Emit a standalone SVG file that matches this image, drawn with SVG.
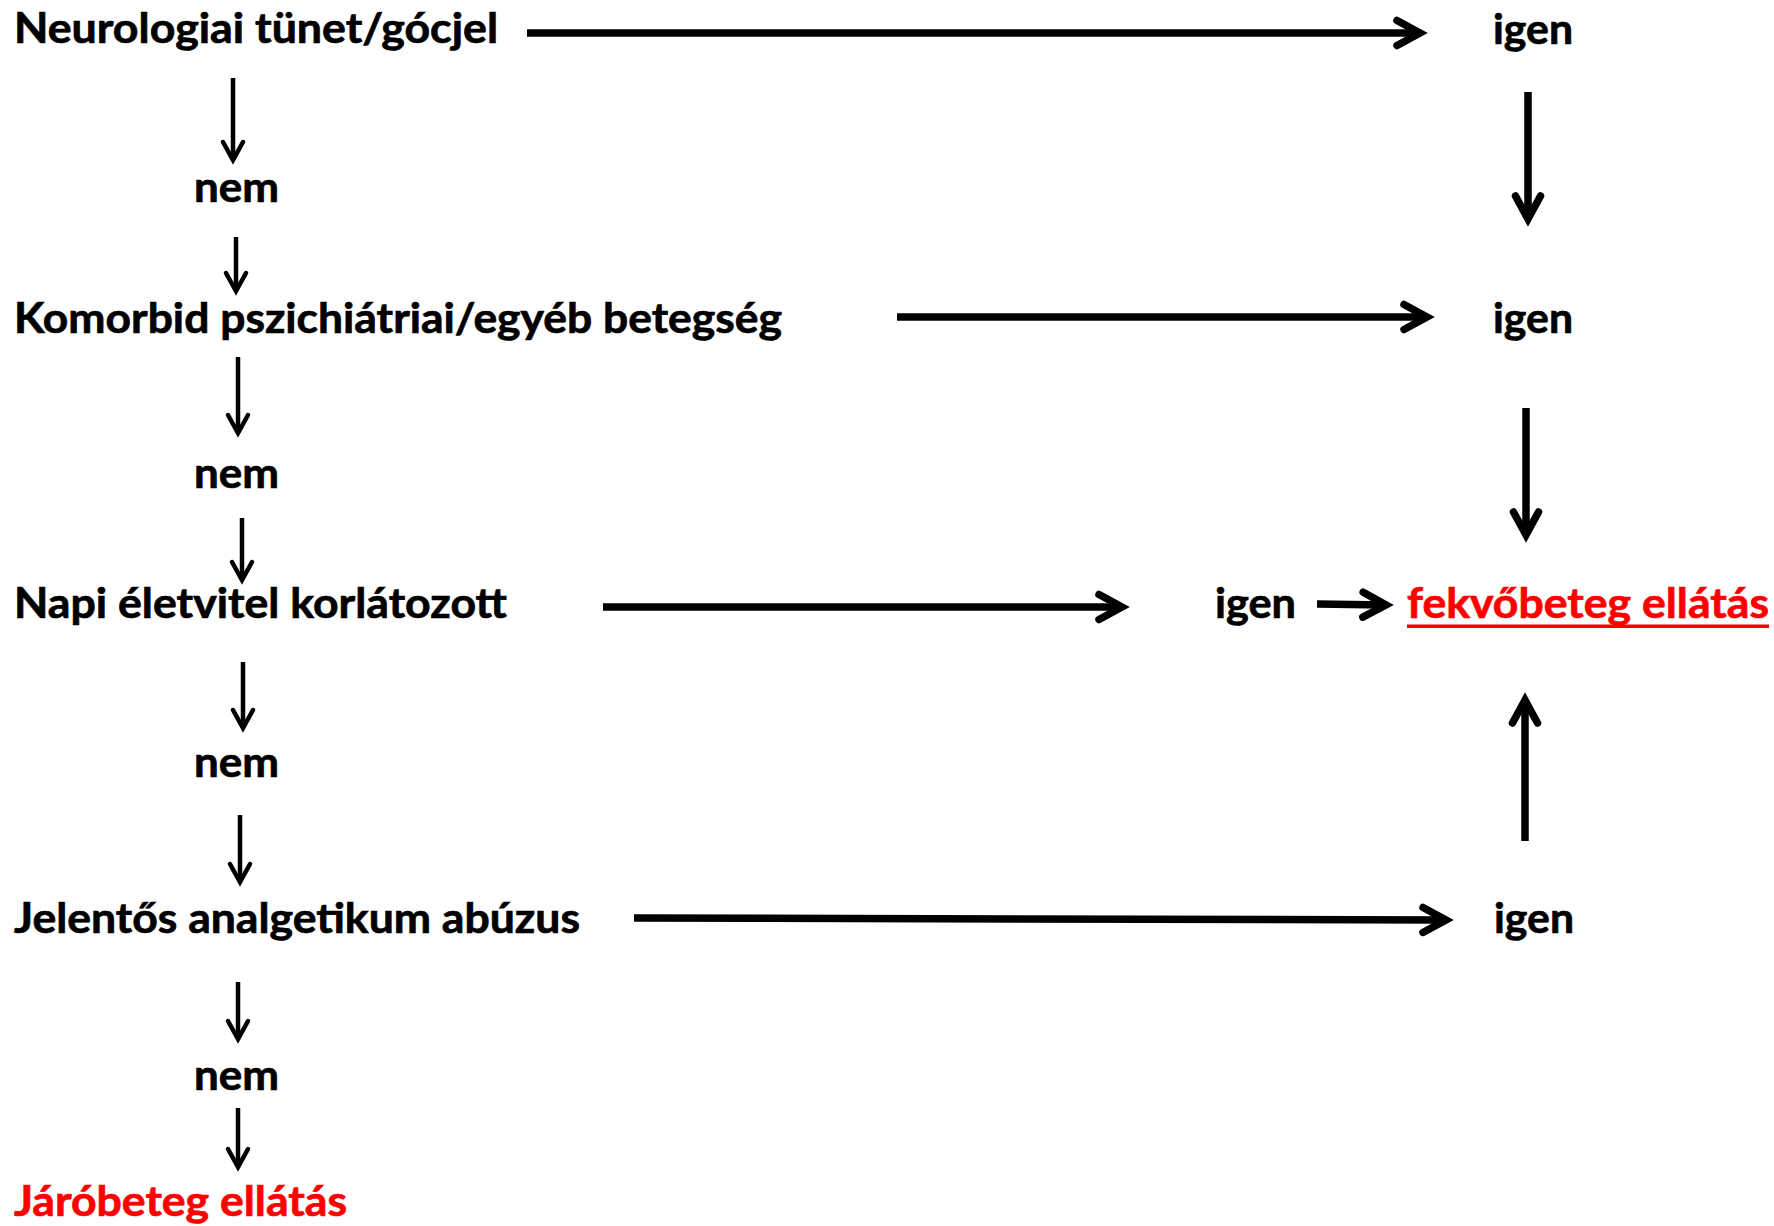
<svg xmlns="http://www.w3.org/2000/svg" width="1774" height="1226" viewBox="0 0 1774 1226">
  <style>
    .t { font-family: Lato, "Liberation Sans", "DejaVu Sans", sans-serif; font-weight: bold; font-size: 42px; fill: #000; stroke: #000; stroke-width: 0.7; }
    .red { fill: #FF0000; stroke: #FF0000; }
    .thick { stroke: #000; stroke-width: 7.5; fill: none; stroke-linecap: butt; }
    .thin { stroke: #000; stroke-width: 4.5; fill: none; stroke-linecap: butt; }
  </style>
  <defs>
    <marker id="headThick" markerUnits="userSpaceOnUse" viewBox="-40 -25 50 50" refX="0" refY="0" markerWidth="50" markerHeight="50" orient="auto" overflow="visible">
      <path d="M-23,-12.5 L0,0 L-23,12.5" fill="none" stroke="#000" stroke-width="7.5" stroke-linecap="round" stroke-linejoin="miter"/>
    </marker>
    <marker id="headThin" markerUnits="userSpaceOnUse" viewBox="-30 -20 40 40" refX="0" refY="0" markerWidth="40" markerHeight="40" orient="auto" overflow="visible">
      <path d="M-18,-10 L0,0 L-18,10" fill="none" stroke="#000" stroke-width="4.5" stroke-linecap="round" stroke-linejoin="miter"/>
    </marker>
  </defs>
  <rect width="1774" height="1226" fill="#fff"/>

  <g id="connectors">
    <!-- horizontal thick arrows -->
    <line class="thick" x1="527" y1="33" x2="1420" y2="33" marker-end="url(#headThick)"/>
    <line class="thick" x1="897" y1="317" x2="1427" y2="317" marker-end="url(#headThick)"/>
    <line class="thick" x1="603" y1="607" x2="1122" y2="607" marker-end="url(#headThick)"/>
    <line class="thick" x1="634" y1="918" x2="1446" y2="920" marker-end="url(#headThick)"/>
    <line class="thick" x1="1317" y1="604" x2="1386" y2="605" marker-end="url(#headThick)"/>
    <!-- right vertical thick arrows -->
    <line class="thick" x1="1528" y1="92" x2="1528" y2="219" marker-end="url(#headThick)"/>
    <line class="thick" x1="1526" y1="408" x2="1526" y2="535" marker-end="url(#headThick)"/>
    <line class="thick" x1="1525" y1="841" x2="1525" y2="700" marker-end="url(#headThick)"/>
    <!-- left vertical thin arrows -->
    <line class="thin" x1="233" y1="78" x2="233" y2="160" marker-end="url(#headThin)"/>
    <line class="thin" x1="236" y1="237" x2="236" y2="291" marker-end="url(#headThin)"/>
    <line class="thin" x1="238" y1="357" x2="238" y2="433" marker-end="url(#headThin)"/>
    <line class="thin" x1="242" y1="518" x2="242" y2="580" marker-end="url(#headThin)"/>
    <line class="thin" x1="243" y1="662" x2="243" y2="728" marker-end="url(#headThin)"/>
    <line class="thin" x1="240" y1="815" x2="240" y2="882" marker-end="url(#headThin)"/>
    <line class="thin" x1="238" y1="982" x2="238" y2="1039" marker-end="url(#headThin)"/>
    <line class="thin" x1="238" y1="1108" x2="238" y2="1167" marker-end="url(#headThin)"/>
  </g>

  <g id="n-neuro"><text class="t" x="14" y="43" textLength="484" lengthAdjust="spacingAndGlyphs">Neurologiai tünet/gócjel</text></g>
  <g id="n-igen1"><text class="t" x="1493" y="44" textLength="80" lengthAdjust="spacingAndGlyphs">igen</text></g>
  <g id="n-nem1"><text class="t" x="194" y="202" textLength="85" lengthAdjust="spacingAndGlyphs">nem</text></g>

  <g id="n-komorbid"><text class="t" x="14" y="333" textLength="768" lengthAdjust="spacingAndGlyphs">Komorbid pszichiátriai/egyéb betegség</text></g>
  <g id="n-igen2"><text class="t" x="1493" y="333" textLength="80" lengthAdjust="spacingAndGlyphs">igen</text></g>
  <g id="n-nem2"><text class="t" x="194" y="488" textLength="85" lengthAdjust="spacingAndGlyphs">nem</text></g>

  <g id="n-napi"><text class="t" x="14" y="618" textLength="493" lengthAdjust="spacingAndGlyphs">Napi életvitel korlátozott</text></g>
  <g id="n-igen3"><text class="t" x="1215" y="618" textLength="81" lengthAdjust="spacingAndGlyphs">igen</text></g>
  <g id="n-fekvo">
    <text class="t red" x="1407" y="618" textLength="362" lengthAdjust="spacingAndGlyphs">fekvőbeteg ellátás</text>
    <rect x="1407" y="624.5" width="362" height="3.5" fill="#FF0000"/>
  </g>
  <g id="n-nem3"><text class="t" x="194" y="777" textLength="85" lengthAdjust="spacingAndGlyphs">nem</text></g>

  <g id="n-jelentos"><text class="t" x="14" y="933" textLength="566" lengthAdjust="spacingAndGlyphs">Jelentős analgetikum abúzus</text></g>
  <g id="n-igen4"><text class="t" x="1494" y="933" textLength="80" lengthAdjust="spacingAndGlyphs">igen</text></g>
  <g id="n-nem4"><text class="t" x="194" y="1090" textLength="85" lengthAdjust="spacingAndGlyphs">nem</text></g>

  <g id="n-jaro"><text class="t red" x="14" y="1216" textLength="333" lengthAdjust="spacingAndGlyphs">Járóbeteg ellátás</text></g>
</svg>
